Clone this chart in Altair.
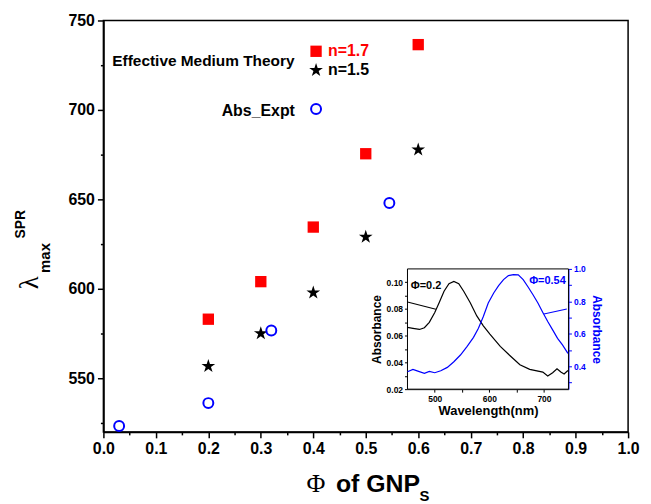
import altair as alt
import pandas as pd

# ---------------- data ----------------
phi_theory = [0.2, 0.3, 0.4, 0.5, 0.6]
lam_n17 = [583.0, 604.0, 634.5, 675.5, 736.5]
lam_n15 = [556.7, 575.0, 597.8, 629.0, 677.8]
series_theory = ["n=1.7", "n=1.5"]

phi_expt = [0.03, 0.2, 0.32, 0.545]
lam_expt = [523.3, 536.1, 576.7, 648.0]

wl_phi02 = [450, 460, 472, 481, 490, 500, 508, 517, 526, 535, 544, 553, 565, 577,
            589, 601, 620, 638, 656, 674, 698, 707, 716, 724, 731, 737, 744]
abs_phi02 = [0.0662, 0.0655, 0.0647, 0.0660, 0.0700, 0.0773, 0.0847, 0.0933, 0.0990,
             0.1007, 0.0990, 0.0933, 0.0847, 0.0748, 0.0674, 0.0612, 0.0520, 0.0450,
             0.0383, 0.0348, 0.0328, 0.0299, 0.0323, 0.0353, 0.0328, 0.0314, 0.0340]

wl_phi054 = [450, 460, 469, 481, 490, 500, 511, 523, 535, 547, 559, 571, 580, 589, 598,
             608, 617, 626, 635, 644, 653, 662, 671, 680, 689, 698, 707, 716, 725, 734, 744]
abs_phi054 = [0.367, 0.381, 0.371, 0.357, 0.369, 0.361, 0.373, 0.394, 0.429, 0.470,
              0.522, 0.579, 0.635, 0.707, 0.790, 0.852, 0.897, 0.934, 0.959, 0.965,
              0.963, 0.934, 0.889, 0.841, 0.790, 0.732, 0.676, 0.625, 0.573, 0.532, 0.480]

x_ticks = [0.0, 0.1, 0.2, 0.3, 0.4, 0.5, 0.6, 0.7, 0.8, 0.9, 1.0]
x_minor = [0.05, 0.15, 0.25, 0.35, 0.45, 0.55, 0.65, 0.75, 0.85, 0.95]
y_ticks = [550, 600, 650, 700, 750]
y_minor = [525, 575, 625, 675, 725]

in_x_ticks = [500, 550, 600, 650, 700]
in_yl_ticks = [0.02, 0.03, 0.04, 0.05, 0.06, 0.07, 0.08, 0.09, 0.10]
in_yr_ticks = [0.3, 0.4, 0.5, 0.6, 0.7, 0.8, 0.9, 1.0]

# ---------------- layout ----------------
W, H = 528, 414
IN_L, IN_R, IN_T, IN_B = 306, 468, 250, 371
SANS = "Liberation Sans"
SERIF = "Liberation Serif"
STAR = ("M0,-1L0.2245,-0.309L0.951,-0.309L0.363,0.118L0.588,0.809L0,0.382"
        "L-0.588,0.809L-0.363,0.118L-0.951,-0.309L-0.2245,-0.309Z")
BLUE = "#0000ff"
RED = "#ff0000"

theory = pd.DataFrame({
    "phi": phi_theory + phi_theory,
    "lam": lam_n17 + lam_n15,
    "series": [series_theory[0]] * len(phi_theory) + [series_theory[1]] * len(phi_theory),
})
expt = pd.DataFrame({"phi": phi_expt, "lam": lam_expt, "series": ["Abs_Expt"] * len(phi_expt)})
curve02 = pd.DataFrame({"wl": wl_phi02, "ab": abs_phi02})
curve054 = pd.DataFrame({"wl": wl_phi054, "ab": abs_phi054})

XM = alt.Scale(domain=[0, 1], nice=False, zero=False)
YM = alt.Scale(domain=[520, 750], nice=False, zero=False)
XI = alt.Scale(domain=[450, 745], range=[IN_L, IN_R], nice=False, zero=False)
YL = alt.Scale(domain=[0.02, 0.11], range=[IN_B, IN_T], nice=False, zero=False)
YR = alt.Scale(domain=[0.26, 1.0], range=[IN_B, IN_T], nice=False, zero=False)

common_axis = dict(grid=False, labelFlush=False, labelColor="black", tickColor="black",
                   domainColor="black", labelFont=SANS, labelFontWeight="bold")

ax_main_x = alt.Axis(orient="bottom", values=x_ticks, format=".1f", labelFontSize=16,
                     labelPadding=3, tickSize=6, tickWidth=1.5, domainWidth=1.8,
                     title=None, **common_axis)
ax_main_y = alt.Axis(orient="left", values=y_ticks, format="d", labelFontSize=16,
                     labelPadding=3, tickSize=6, tickWidth=1.5, domainWidth=1.8,
                     title=None, **common_axis)
ax_minor_x = alt.Axis(orient="bottom", values=x_minor, labels=False, domain=False,
                      tickSize=3, tickWidth=1.5, tickColor="black", grid=False, title=None)
ax_minor_y = alt.Axis(orient="left", values=y_minor, labels=False, domain=False,
                      tickSize=3, tickWidth=1.5, tickColor="black", grid=False, title=None)

leg_theory = alt.Legend(
    title="Effective Medium Theory", titleOrient="left", titleAnchor="middle",
    titleBaseline="middle", titleFont=SANS, titleFontSize=15.5, titleFontWeight="bold",
    titleColor="black", titlePadding=13, titleLimit=400, labelFont=SANS, labelFontSize=16,
    labelFontWeight="bold",
    labelColor={"expr": "datum.label == 'n=1.7' ? '#ff0000' : '#000000'"},
    labelOffset=4, symbolSize=130, symbolStrokeWidth=0, rowPadding=3,
    orient="none", legendX=9, legendY=23, padding=0,
)
leg_expt = alt.Legend(
    title="Abs_Expt", titleOrient="left", titleAnchor="middle", titleBaseline="middle",
    titleFont=SANS, titleFontSize=16, titleFontWeight="bold", titleColor="black",
    titlePadding=15, titleLimit=400, labelExpr="''", symbolSize=100, symbolStrokeWidth=2,
    symbolType="circle", orient="none", legendX=119, legendY=83, padding=0,
)

theory_layer = alt.Chart(theory).mark_point(filled=True, opacity=1, strokeWidth=0).encode(
    x=alt.X("phi:Q", scale=XM, axis=ax_main_x),
    y=alt.Y("lam:Q", scale=YM, axis=ax_main_y),
    color=alt.Color("series:N", scale=alt.Scale(domain=series_theory, range=[RED, "#000000"]),
                    legend=leg_theory),
    shape=alt.Shape("series:N", scale=alt.Scale(domain=series_theory, range=["square", STAR]),
                    legend=leg_theory),
    size=alt.Size("series:N", scale=alt.Scale(domain=series_theory, range=[130, 210]),
                  legend=None),
)

expt_layer = alt.Chart(expt).mark_point(filled=False, shape="circle", size=100,
                                        strokeWidth=2, opacity=1).encode(
    x=alt.X("phi:Q", scale=XM, axis=None),
    y=alt.Y("lam:Q", scale=YM, axis=None),
    stroke=alt.Stroke("series:N", scale=alt.Scale(domain=["Abs_Expt"], range=[BLUE]),
                      legend=leg_expt),
)

minor_layer = alt.Chart(theory).mark_point(opacity=0).encode(
    x=alt.X("phi:Q", scale=XM, axis=ax_minor_x),
    y=alt.Y("lam:Q", scale=YM, axis=ax_minor_y),
)

# ---------------- inset ----------------
ax_in_x = alt.Axis(orient="bottom", offset=-(H - IN_B), values=in_x_ticks, format="d",
                   labelExpr="datum.value % 100 == 0 ? datum.label : ''",
                   labelFontSize=8.5, labelPadding=2, tickSize=3, domainWidth=1,
                   title="Wavelength(nm)", titleFont=SANS, titleFontSize=13,
                   titleFontWeight="bold", titleColor="black", titlePadding=2, **common_axis)
ax_in_yl = alt.Axis(orient="left", offset=-IN_L, values=in_yl_ticks, format=".2f",
                    labelExpr="round(datum.value * 100) % 2 == 0 ? datum.label : ''",
                    labelFontSize=8.5, labelPadding=2, tickSize=3, domainWidth=1,
                    title="Absorbance", titleFont=SANS, titleFontSize=12,
                    titleFontWeight="bold", titleColor="black", titlePadding=3, **common_axis)
ax_in_yr = alt.Axis(orient="right", offset=-(W - IN_R), values=in_yr_ticks, format=".1f",
                    labelExpr="round(datum.value * 10) % 2 == 0 ? datum.label : ''",
                    labelFont=SANS, labelFontWeight="bold", labelFontSize=8.5,
                    labelColor=BLUE, labelPadding=2, tickColor=BLUE, tickSize=3,
                    domainColor=BLUE, domainWidth=1, grid=False, labelFlush=False,
                    title="Absorbance", titleFont=SANS, titleFontSize=12,
                    titleFontWeight="bold", titleColor=BLUE, titleAngle=90, titlePadding=4)

frame = pd.DataFrame({"x1": [450], "x2": [745], "y1": [0.02], "y2": [0.11]})
frame_layer = alt.Chart(frame).mark_rect(fill="white", stroke="black", strokeWidth=1).encode(
    x=alt.X("x1:Q", scale=XI, axis=None), x2="x2:Q",
    y=alt.Y("y1:Q", scale=YL, axis=None), y2="y2:Q",
)

black_curve = alt.Chart(curve02).mark_line(color="black", strokeWidth=1.2).encode(
    x=alt.X("wl:Q", scale=XI, axis=ax_in_x),
    y=alt.Y("ab:Q", scale=YL, axis=ax_in_yl),
)
blue_curve = alt.Chart(curve054).mark_line(color=BLUE, strokeWidth=1.2).encode(
    x=alt.X("wl:Q", scale=XI, axis=None),
    y=alt.Y("ab:Q", scale=YR, axis=ax_in_yr),
)

ptr_black = pd.DataFrame({"x1": [450], "x2": [502], "y1": [0.0852], "y2": [0.0798]})
ptr_blue = pd.DataFrame({"x1": [700], "x2": [742], "y1": [0.722], "y2": [0.753]})
ptr_black_layer = alt.Chart(ptr_black).mark_rule(color="black", strokeWidth=1.1).encode(
    x=alt.X("x1:Q", scale=XI, axis=None), x2="x2:Q",
    y=alt.Y("y1:Q", scale=YL, axis=None), y2="y2:Q",
)
ptr_blue_layer = alt.Chart(ptr_blue).mark_rule(color=BLUE, strokeWidth=1.1).encode(
    x=alt.X("x1:Q", scale=XI, axis=None), x2="x2:Q",
    y=alt.Y("y1:Q", scale=YR, axis=None), y2="y2:Q",
)

lab02 = pd.DataFrame({"wl": [456], "ab": [0.0975], "t": ["\u03a6=0.2"]})
lab054 = pd.DataFrame({"wl": [740], "ab": [0.924], "t": ["\u03a6=0.54"]})
lab02_layer = alt.Chart(lab02).mark_text(font=SANS, fontSize=11, fontWeight="bold",
                                         align="left", baseline="middle", color="black").encode(
    x=alt.X("wl:Q", scale=XI, axis=None), y=alt.Y("ab:Q", scale=YL, axis=None), text="t:N")
lab054_layer = alt.Chart(lab054).mark_text(font=SANS, fontSize=11, fontWeight="bold",
                                           align="right", baseline="middle", color=BLUE).encode(
    x=alt.X("wl:Q", scale=XI, axis=None), y=alt.Y("ab:Q", scale=YR, axis=None), text="t:N")

# ---------------- axis titles (composed text) ----------------
one = pd.DataFrame({"k": [0]})


def label(text, x, y, font=SANS, size=14, weight="bold", angle=0, align="center",
          baseline="middle"):
    return alt.Chart(one).mark_text(text=text, font=font, fontSize=size, fontWeight=weight,
                                    angle=angle, align=align, baseline=baseline,
                                    color="black").encode(x=alt.value(x), y=alt.value(y))


titles = [
    label("SPR", -83, 205, size=14, angle=270),
    label("\u03bb", -74, 264, font=SERIF, size=27, weight="normal", angle=270),
    label("max", -59, 239, size=15, angle=270),
    label("\u03a6", 214, 474, font=SERIF, size=26, weight="normal", baseline="alphabetic"),
    label("of GNP", 234, 474, size=25, align="left", baseline="alphabetic"),
    label("S", 318, 484, size=15, align="left", baseline="alphabetic"),
]

chart = alt.layer(
    theory_layer, expt_layer, minor_layer,
    frame_layer, black_curve, blue_curve,
    ptr_black_layer, ptr_blue_layer, lab02_layer, lab054_layer,
    *titles,
).resolve_scale(
    x="independent", y="independent"
).properties(
    width=W, height=H,
    autosize=alt.AutoSizeParams(type="none"),
    padding={"left": 96, "top": 11, "right": 15, "bottom": 70},
).configure_view(stroke="black", strokeWidth=1.5)

chart.save("out.html", embed_options={"renderer": "svg", "actions": False})
